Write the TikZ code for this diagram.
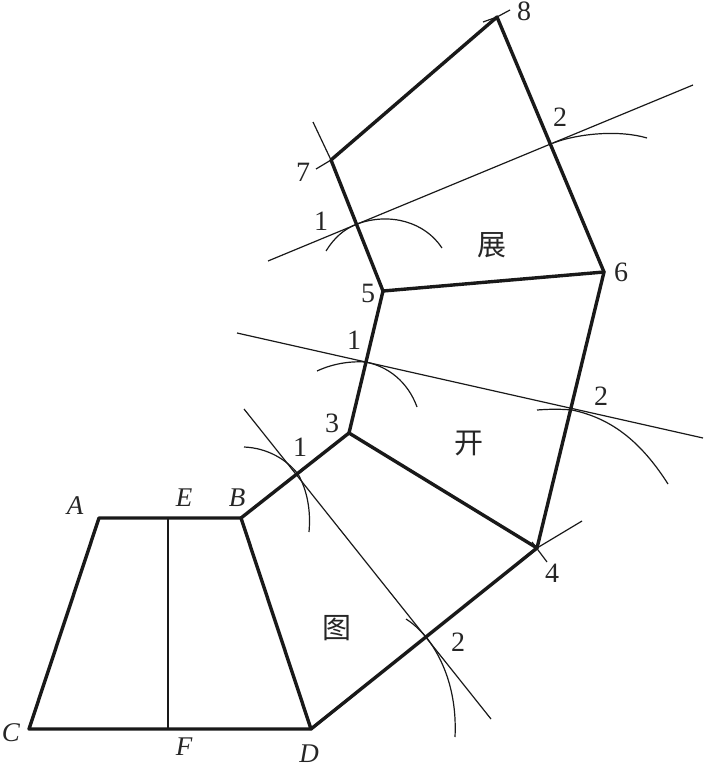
\documentclass[tikz,border=0pt]{standalone}
\usepackage{fontspec}
\setmainfont{Liberation Serif}
\newfontfamily\cjk{Noto Sans CJK SC}[Scale=1]
\tikzset{
  thickedge/.style={line width=3.4pt,line cap=round,line join=round,black!90},
  thinline/.style={line width=1.2pt,black!90},
  arcline/.style={line width=1.2pt,black!90},
  lab/.style={inner sep=0pt,font=\fontsize{28}{28}\selectfont,black!85},
  ilab/.style={inner sep=0pt,font=\fontsize{27}{27}\selectfont\itshape,black!85},
  cjklab/.style={inner sep=0pt,font=\cjk\fontsize{29}{29}\selectfont,black!85}
}
\begin{document}
\begin{tikzpicture}[x=1pt,y=-1pt]
\useasboundingbox (0,0) rectangle (704,765);
% vertices
\coordinate (A) at (99,518);
\coordinate (B) at (241,518);
\coordinate (C) at (29,729);
\coordinate (D) at (311,729);
\coordinate (E) at (168,518);
\coordinate (F) at (168,729);
\coordinate (v3) at (349,433);
\coordinate (v4) at (537,548);
\coordinate (v5) at (383,291);
\coordinate (v6) at (604,272);
\coordinate (v7) at (331,160);
\coordinate (v8) at (497,17);
% free ends of construction lines
\coordinate (p1) at (244,409);
\coordinate (p2) at (491,719);
\coordinate (q1) at (237,333);
\coordinate (q2) at (703,438);
\coordinate (r1) at (268,261);
\coordinate (r2) at (693,85);
\coordinate (t7a) at (313,122);
\coordinate (t7b) at (316,169);
\coordinate (t8a) at (483,22);
\coordinate (t8b) at (510,10);
\coordinate (t4a) at (532,542);
\coordinate (t4b) at (547,562);
\coordinate (t4c) at (582,521);
% thin lines
\draw[thinline] (E) -- (F);
\draw[thinline] (p1) -- (p2);
\draw[thinline] (q1) -- (q2);
\draw[thinline] (r1) -- (r2);
\draw[thinline] (t7a) -- (v7);
\draw[thinline] (t7b) -- (v7);
\draw[thinline] (t8a) -- (v8) -- (t8b);
\draw[thinline] (t4a) -- (t4b);
\draw[thinline] (v4) -- (t4c);
% arcs
\draw[arcline] (244,447) .. controls (268,448) and (287,460) .. (298,474) .. controls (307,490) and (311,510) .. (309,532);
\draw[arcline] (406,619) .. controls (414,624) and (421,631) .. (427,638) .. controls (445,662) and (457,695) .. (455,737);
\draw[arcline] (317,371) .. controls (332,364) and (349,361) .. (365,362) .. controls (388,366) and (408,382) .. (417,407);
\draw[arcline] (537,410) .. controls (550,409) and (561,409) .. (572,410) .. controls (610,418) and (640,440) .. (668,484);
\draw[arcline] (326,251) .. controls (334,238) and (344,229) .. (357,224) .. controls (390,212) and (425,222) .. (442,248);
\draw[arcline] (553,143) .. controls (580,133) and (620,130) .. (647,138);
% thick outline
\draw[thickedge] (A) -- (B) -- (D) -- (C) -- cycle;
\draw[thickedge] (B) -- (v3) -- (v4) -- (D);
\draw[thickedge] (v3) -- (v5) -- (v6) -- (v4);
\draw[thickedge] (v5) -- (v7) -- (v8) -- (v6);
% labels
\node[ilab] (lA) at (75,506) {A};
\node[ilab] (lE) at (184,498) {E};
\node[ilab] (lB) at (237,498) {B};
\node[ilab] (lC) at (11,733) {C};
\node[ilab] (lF) at (184,747) {F};
\node[ilab] (lD) at (309,754) {D};
\node[lab] (n1a) at (300,447) {1};
\node[lab] (n3) at (332,423) {3};
\node[lab] (n1b) at (354,340) {1};
\node[lab] (n5) at (368,293) {5};
\node[lab] (n1c) at (321,221) {1};
\node[lab] (n7) at (303,172) {7};
\node[lab] (n8) at (524,11) {8};
\node[lab] (n2c) at (560,117) {2};
\node[lab] (n6) at (621,272) {6};
\node[lab] (n2b) at (601,396) {2};
\node[lab] (n4) at (552,573) {4};
\node[lab] (n2a) at (458,642) {2};
\node[cjklab] (zhan) at (492,245) {展};
\node[cjklab] (kai) at (469,443) {开};
\node[cjklab] (tu) at (337,628) {图};
\end{tikzpicture}
\end{document}
